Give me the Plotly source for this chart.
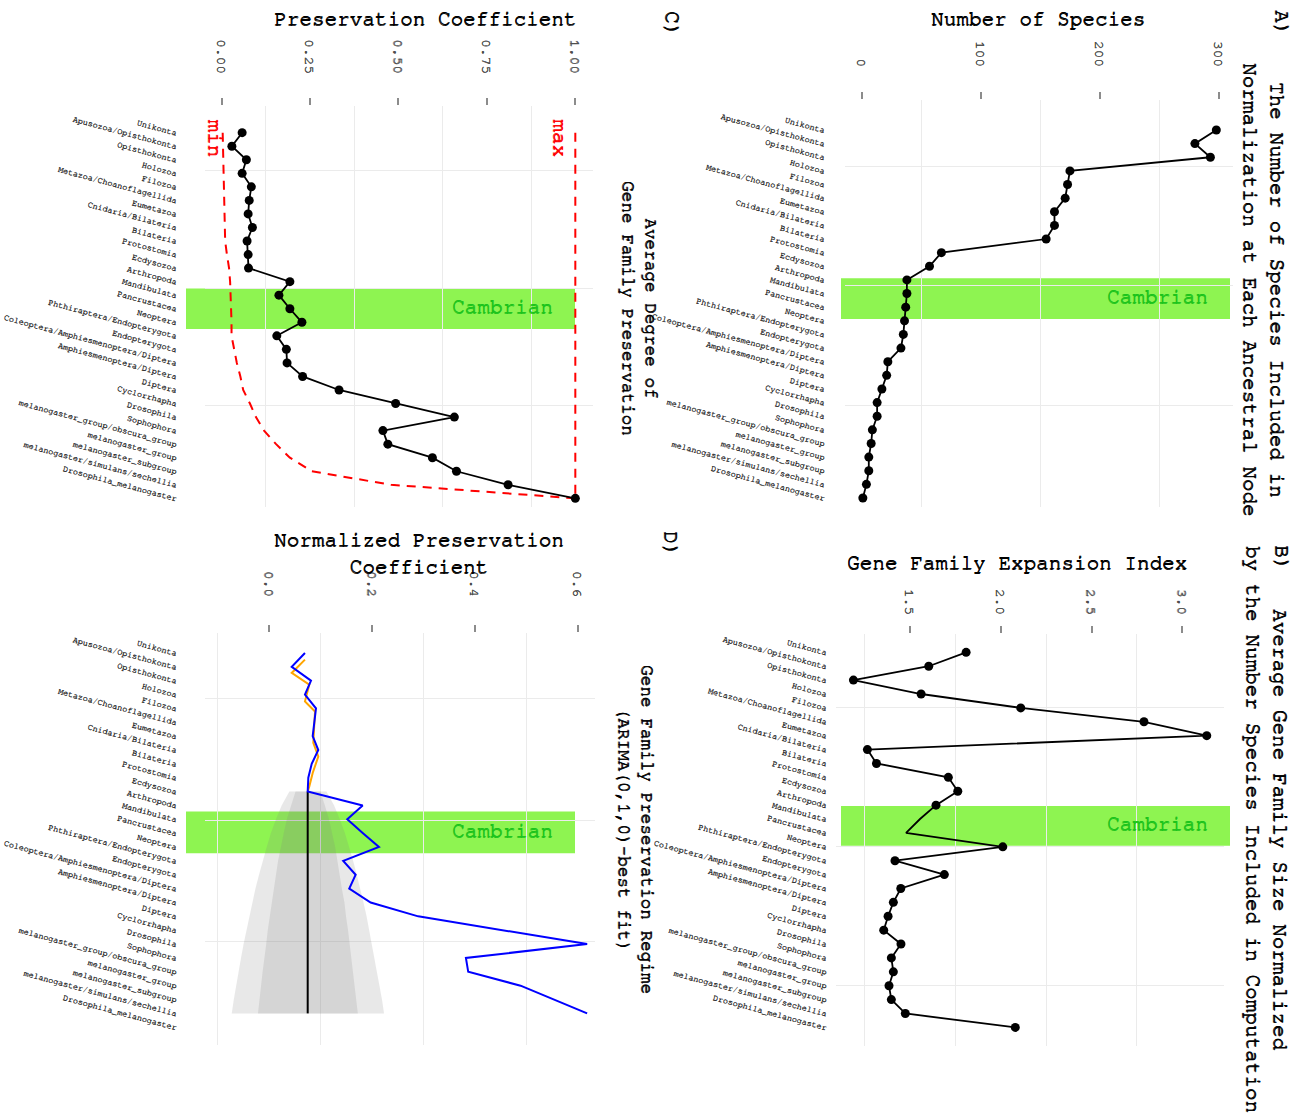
import plotly.graph_objects as go

W, H = 1302, 1117
FONT = "Nimbus Mono PS, Nimbus Mono L, FreeMono, Courier New, Liberation Mono, monospace"
GRID = "#ebebeb"
GREEN_FILL = "#8ef451"
GREEN_TEXT = "#1cc41c"

# ---------------- data ----------------
nodes = ["Unikonta", "Apusozoa/Opisthokonta", "Opisthokonta", "Holozoa", "Filozoa",
         "Metazoa/Choanoflagellida", "Eumetazoa", "Cnidaria/Bilateria", "Bilateria",
         "Protostomia", "Ecdysozoa", "Arthropoda", "Mandibulata", "Pancrustacea",
         "Neoptera", "Phthiraptera/Endopterygota", "Endopterygota",
         "Coleoptera/Amphiesmenoptera/Diptera", "Amphiesmenoptera/Diptera", "Diptera",
         "Cyclorrhapha", "Drosophila", "Sophophora", "melanogaster_group/obscura_group",
         "melanogaster_group", "melanogaster_subgroup", "melanogaster/simulans/sechellia",
         "Drosophila_melanogaster"]
node_index = list(range(1, len(nodes) + 1))

# A) number of species
species_counts = [298, 280, 293, 175, 173, 171, 162, 162, 155, 67, 57, 38, 38, 37,
                  36, 35, 33, 22, 21, 17, 13, 13, 9, 8, 6, 6, 4, 1]

# B) gene family expansion index
expansion_index = [1.809, 1.603, 1.188, 1.561, 2.110, 2.789, 3.135, 1.265, 1.315, 1.711,
                   1.763, 1.643, 1.555, 1.478, 2.011, 1.417, 1.689, 1.449, 1.408, 1.379,
                   1.355, 1.450, 1.397, 1.408, 1.384, 1.397, 1.474, 2.080]
expansion_unmarked_nodes = [13, 14]

# C) preservation coefficient with min / max bounds
preservation = [0.058, 0.029, 0.070, 0.058, 0.084, 0.078, 0.075, 0.087, 0.072, 0.075,
                0.076, 0.193, 0.162, 0.193, 0.227, 0.156, 0.183, 0.185, 0.229, 0.332,
                0.492, 0.658, 0.456, 0.470, 0.596, 0.664, 0.810, 1.000]
preservation_min = [0.003, 0.004, 0.005, 0.005, 0.006, 0.007, 0.008, 0.009, 0.010, 0.015,
                    0.021, 0.024, 0.026, 0.027, 0.028, 0.028, 0.035, 0.043, 0.053, 0.061,
                    0.080, 0.097, 0.120, 0.154, 0.193, 0.255, 0.479, 1.000]
preservation_max = 1.0

# D) normalized preservation coefficient, fit and ARIMA(0,1,0) forecast
normalized_obs = [0.0693, 0.0435, 0.0810, 0.0693, 0.0907, 0.0874, 0.0843, 0.0952, 0.0824,
                  0.0758, 0.0746, 0.1814, 0.1515, 0.1820, 0.2131, 0.1437, 0.1678, 0.1554,
                  0.1970, 0.2894, 0.4550, 0.6177, 0.3821, 0.3866, 0.4883, 0.5530, 0.6177]
fitted_pos = [1.48, 2.44, 3.29, 4.49, 5.22, 7.48, 8.47, 9.66, 10.63, 11.0]
fitted_val = [0.0693, 0.0435, 0.0777, 0.0693, 0.0888, 0.0855, 0.0952, 0.0843, 0.0777, 0.0746]
forecast_index = [11, 12, 13, 14, 15, 16, 17, 18, 19, 20, 21, 22, 23, 24, 25, 26, 27]
forecast_mean = 0.0746
lo95 = [0.039, 0.024, 0.013, 0.003, -0.005, -0.013, -0.020, -0.027, -0.033, -0.039,
        -0.044, -0.050, -0.055, -0.060, -0.064, -0.069, -0.073]
hi95 = [0.111, 0.126, 0.137, 0.147, 0.155, 0.163, 0.170, 0.177, 0.183, 0.189,
        0.194, 0.200, 0.205, 0.210, 0.214, 0.219, 0.223]
lo80 = [0.051, 0.042, 0.034, 0.028, 0.022, 0.017, 0.013, 0.009, 0.004, 0.001,
        -0.003, -0.006, -0.010, -0.013, -0.016, -0.019, -0.022]
hi80 = [0.099, 0.108, 0.116, 0.122, 0.128, 0.133, 0.137, 0.141, 0.146, 0.149,
        0.153, 0.156, 0.160, 0.163, 0.166, 0.169, 0.172]

# Cambrian band (in node-index units) per panel
cambrian_A = [11.88, 14.87]
cambrian_B = [12.06, 14.93]
cambrian_C = [12.50, 15.50]
cambrian_D = [12.44, 15.44]

# value-axis ticks
ticks_A = [0, 100, 200, 300]
ticks_B = [1.5, 2.0, 2.5, 3.0]
ticks_C = [0.0, 0.25, 0.5, 0.75, 1.0]
ticks_D = [0.0, 0.2, 0.4, 0.6]
ticktext_A = ["0", "100", "200", "300"]
ticktext_B = ["1.5", "2.0", "2.5", "3.0"]
ticktext_C = ["0.00", "0.25", "0.50", "0.75", "1.00"]
ticktext_D = ["0.0", "0.2", "0.4", "0.6"]
minor_A = [50, 150, 250]
minor_B = [1.25, 1.75, 2.25, 2.75]
minor_C = [0.125, 0.375, 0.625, 0.875]
minor_D = [-0.1, 0.1, 0.3, 0.5]


# ---------------- helpers ----------------
def fx(p):
    return p / W


def fy(p):
    return 1 - p / H


def tfont(size, color, thick=0.5):
    return dict(family=FONT, size=size, color=color,
                shadow="%.2fpx 0px 0px %s, 0px %.2fpx 0px %s" % (thick, color, thick, color))


def cat_axis(ypx, rng, minor_vals, standoff, anchor):
    return dict(domain=[fy(ypx[1]), fy(ypx[0])], range=rng, tickmode="array",
                tickvals=node_index, ticktext=nodes, tickangle=15,
                tickfont=tfont(8.5, "#262626", 0.3),
                showgrid=False, zeroline=False, showline=False, ticks="",
                minor=dict(tickmode="array", tickvals=minor_vals, showgrid=True,
                           gridcolor=GRID, gridwidth=1, ticks=""),
                anchor=anchor, automargin=False, ticklabelstandoff=standoff)


def val_axis(xpx, rng, tv, tt, minor_vals, standoff, anchor):
    return dict(domain=[fx(xpx[0]), fx(xpx[1])], range=rng, side="top",
                tickmode="array", tickvals=tv, ticktext=tt, tickangle=90,
                tickfont=tfont(14.5, "#4d4d4d", 0.4),
                ticks="outside", ticklen=7, tickwidth=1.5, tickcolor="#8c8c8c",
                showgrid=False, zeroline=False, showline=False,
                minor=dict(tickmode="array", tickvals=minor_vals, showgrid=True,
                           gridcolor=GRID, gridwidth=1, ticks=""),
                anchor=anchor, automargin=False, ticklabelstandoff=standoff)


fig = go.Figure()

# ---- A ----
fig.add_trace(go.Scatter(x=species_counts, y=node_index, mode="lines+markers",
                         line=dict(color="black", width=1.8),
                         marker=dict(color="black", size=9),
                         xaxis="x", yaxis="y", showlegend=False))

# ---- B ----
fig.add_trace(go.Scatter(x=expansion_index, y=node_index, mode="lines",
                         line=dict(color="black", width=1.8),
                         xaxis="x2", yaxis="y2", showlegend=False))
b_marked = [(v, n) for v, n in zip(expansion_index, node_index)
            if n not in expansion_unmarked_nodes]
fig.add_trace(go.Scatter(x=[v for v, n in b_marked], y=[n for v, n in b_marked],
                         mode="markers", marker=dict(color="black", size=9),
                         xaxis="x2", yaxis="y2", showlegend=False))

# ---- C ----
fig.add_trace(go.Scatter(x=preservation_min, y=node_index, mode="lines",
                         line=dict(color="#ff0000", width=2, dash="9px,7px"),
                         xaxis="x3", yaxis="y3", showlegend=False))
fig.add_trace(go.Scatter(x=[preservation_max, preservation_max],
                         y=[node_index[0], node_index[-1]], mode="lines",
                         line=dict(color="#ff0000", width=2, dash="9px,7px"),
                         xaxis="x3", yaxis="y3", showlegend=False))
fig.add_trace(go.Scatter(x=preservation, y=node_index, mode="lines+markers",
                         line=dict(color="black", width=1.8),
                         marker=dict(color="black", size=9),
                         xaxis="x3", yaxis="y3", showlegend=False))

# ---- D ----
band_fill = "rgba(128,128,128,0.18)"
fig.add_trace(go.Scatter(x=lo95 + hi95[::-1], y=forecast_index + forecast_index[::-1],
                         mode="lines", fill="toself", fillcolor=band_fill,
                         line=dict(width=0), xaxis="x4", yaxis="y4", showlegend=False))
fig.add_trace(go.Scatter(x=lo80 + hi80[::-1], y=forecast_index + forecast_index[::-1],
                         mode="lines", fill="toself", fillcolor=band_fill,
                         line=dict(width=0), xaxis="x4", yaxis="y4", showlegend=False))
fig.add_trace(go.Scatter(x=fitted_val, y=fitted_pos, mode="lines",
                         line=dict(color="#ffa500", width=2),
                         xaxis="x4", yaxis="y4", showlegend=False))
fig.add_trace(go.Scatter(x=[forecast_mean, forecast_mean],
                         y=[forecast_index[0], forecast_index[-1]], mode="lines",
                         line=dict(color="black", width=2),
                         xaxis="x4", yaxis="y4", showlegend=False))
fig.add_trace(go.Scatter(x=normalized_obs, y=node_index[:len(normalized_obs)], mode="lines",
                         line=dict(color="#0000ff", width=2),
                         xaxis="x4", yaxis="y4", showlegend=False))

# ---------------- layout ----------------
layout = dict(
    width=W, height=H, margin=dict(l=0, r=0, t=0, b=0),
    paper_bgcolor="white", plot_bgcolor="white", showlegend=False,
    xaxis=val_axis((845, 1233), [-14.0, 312.0], ticks_A, ticktext_A, minor_A, 20, "y"),
    yaxis=cat_axis((100, 507), [28.66, -1.2], [3.69, 12.44, 21.19], 19, "x"),
    xaxis2=val_axis((836, 1224), [1.092, 3.23], ticks_B, ticktext_B, minor_B, 6, "y2"),
    yaxis2=cat_axis((634, 1046), [29.34, -0.32], [5, 15, 25], 8, "x2"),
    xaxis3=val_axis((205, 593), [-0.047, 1.05], ticks_C, ticktext_C, minor_C, 19, "y3"),
    yaxis3=cat_axis((106, 507), [28.64, -0.97], [3.81, 12.50, 21.18], 27, "x3"),
    xaxis4=val_axis((205, 595), [-0.125, 0.633], ticks_D, ticktext_D, minor_D, 23, "y4"),
    yaxis4=cat_axis((633, 1045), [29.28, -0.44], [4.32, 13.09, 21.82], 27, "x4"),
)
fig.update_layout(**layout)

# Cambrian bands
for ya, band, x0, x1 in [("y", cambrian_A, 841, 1230), ("y2", cambrian_B, 841, 1230),
                         ("y3", cambrian_C, 186, 575), ("y4", cambrian_D, 186, 575)]:
    fig.add_shape(type="rect", xref="paper", yref=ya, x0=fx(x0), x1=fx(x1),
                  y0=band[0], y1=band[1], fillcolor=GREEN_FILL, line=dict(width=0),
                  layer="below")
    fig.add_annotation(xref="paper", yref=ya, x=fx(x1 - 20), y=(band[0] + band[1]) / 2 - 0.15,
                       xanchor="right", yanchor="middle", text="Cambrian", showarrow=False,
                       font=tfont(21, GREEN_TEXT, 0.6))

# max / min labels in panel C
fig.add_annotation(xref="x3", yref="y3", x=0.956, y=1.39, text="max", textangle=90,
                   showarrow=False, font=tfont(21, "#ff0000", 0.6))
fig.add_annotation(xref="x3", yref="y3", x=-0.02, y=1.39, text="min", textangle=90,
                   showarrow=False, font=tfont(21, "#ff0000", 0.6))


def ann(text, xp, yp, size, angle=0):
    fig.add_annotation(xref="paper", yref="paper", x=fx(xp), y=fy(yp), text=text,
                       showarrow=False, textangle=angle, xanchor="center", yanchor="middle",
                       align="center", font=tfont(size, "#000000", 0.6))


# axis titles
ann("Number of Species", 1038, 18, 21)
ann("Gene Family Expansion Index", 1017, 562, 21)
ann("Preservation Coefficient", 425, 18, 21)
ann("Normalized Preservation<br>Coefficient", 419, 553, 21)

# panel titles (rotated)
ann("The Number of Species Included in<br>Normalization at Each Ancestral Node", 1264, 290, 21, 90)
ann("Average Gene Family Size Normalized<br>by the Number Species Included in Computation", 1267, 829, 21, 90)
ann("Average Degree of<br>Gene Family Preservation", 640, 308, 17.7, 90)
ann("Gene Family Preservation Regime<br>(ARIMA(0,1,0)-best fit)", 636, 829, 17.7, 90)

# tags
ann("A)", 1283, 22, 21, 90)
ann("B)", 1283, 557, 21, 90)
ann("C)", 672, 23, 21, 90)
ann("D)", 672, 543, 21, 90)

fig.write_html("out.html", config={"displayModeBar": False},
               post_script="document.body.style.margin='0px';"
                           "document.body.style.overflow='hidden';")
